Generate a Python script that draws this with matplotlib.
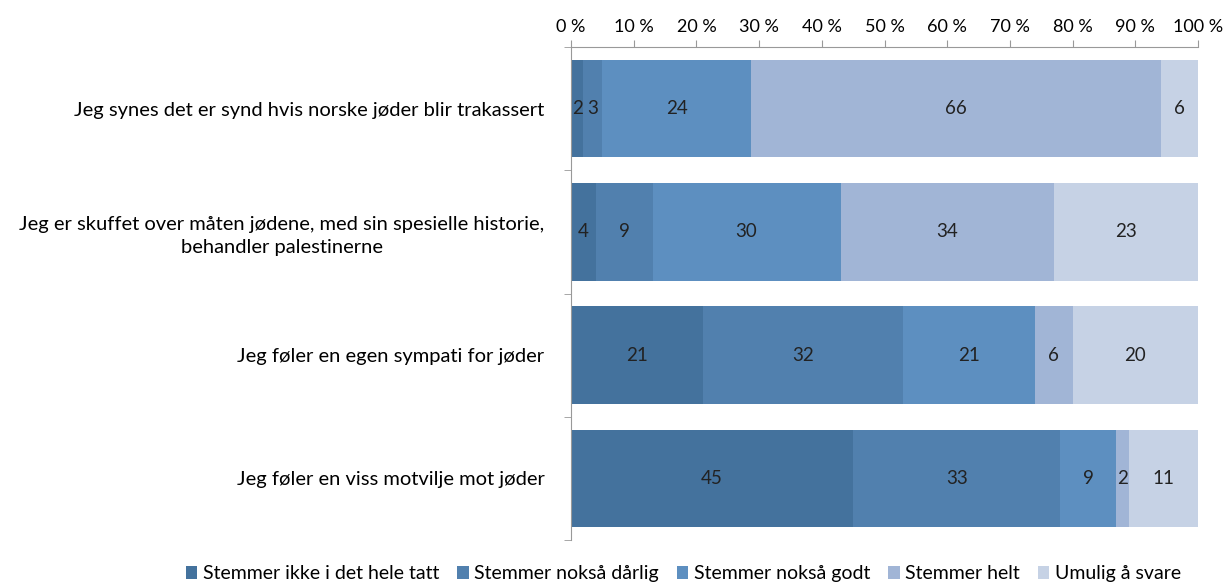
import matplotlib.pyplot as plt
import numpy as np

plt.rcParams['font.family'] = ['Lato', 'DejaVu Sans']

categories = [
    'Jeg synes det er synd hvis norske jøder blir trakassert',
    'Jeg er skuffet over måten jødene, med sin spesielle historie,\nbehandler palestinerne',
    'Jeg føler en egen sympati for jøder',
    'Jeg føler en viss motvilje mot jøder',
]
series = ['Stemmer ikke i det hele tatt', 'Stemmer nokså dårlig', 'Stemmer nokså godt',
          'Stemmer helt', 'Umulig å svare']
ikke = [2, 4, 21, 45]
darlig = [3, 9, 32, 33]
godt = [24, 30, 21, 9]
helt = [66, 34, 6, 2]
umulig = [6, 23, 20, 11]
colors = ['#44729D', '#5180AE', '#5D8FC0', '#A1B5D6', '#C6D2E5']

values = np.array([ikke, darlig, godt, helt, umulig], dtype=float)
shares = values / values.sum(axis=0) * 100

fig = plt.figure(figsize=(12.28, 5.87), dpi=100)
ax = fig.add_axes([571 / 1228, 1 - 540 / 587, 627 / 1228, 493 / 587])

y = np.arange(len(categories))
left = np.zeros(len(categories))
for i, name in enumerate(series):
    ax.barh(y, shares[i], left=left, height=0.79, color=colors[i], label=name)
    for j in range(len(categories)):
        ax.text(left[j] + shares[i][j] / 2, y[j], '%d' % values[i][j],
                ha='center', va='center', fontsize=13.5, color='#222222')
    left += shares[i]

ax.set_xlim(0, 100)
ax.set_ylim(len(categories) - 0.5, -0.5)
ax.xaxis.tick_top()
ax.set_xticks(range(0, 101, 10))
ax.set_xticklabels(['%d %%' % v for v in range(0, 101, 10)], fontsize=13)
ax.tick_params(axis='x', length=5, color='#999999', pad=4)
ax.set_yticks(y)
ax.set_yticklabels(categories, fontsize=14.5, linespacing=1.4, multialignment='center')
ax.tick_params(axis='y', length=0, pad=19)
ax.set_yticks(np.arange(-0.5, len(categories), 1), minor=True)
ax.tick_params(axis='y', which='minor', length=5, color='#999999')
for s in ['right', 'bottom']:
    ax.spines[s].set_visible(False)
for s in ['top', 'left']:
    ax.spines[s].set_color('#999999')

fig.legend(loc='lower left', bbox_to_anchor=(168 / 1228, -0.022), ncol=5, frameon=False,
           fontsize=14, handlelength=0.6, handleheight=0.6, handletextpad=0.3,
           columnspacing=0.9)

fig.savefig('out.png', dpi=100)
